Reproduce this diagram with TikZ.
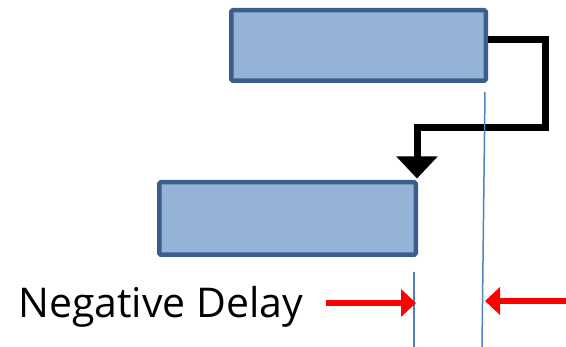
\documentclass[tikz,border=0pt]{standalone}
\usepackage{fontspec}
\setmainfont{Open Sans}
\usetikzlibrary{arrows.meta}
\definecolor{boxfill}{HTML}{95B3D7}
\definecolor{boxline}{HTML}{3B5E8E}
\definecolor{guide}{HTML}{4F81BD}
\begin{document}
\begin{tikzpicture}[x=1pt,y=-1pt,
  bar/.style={draw=boxline,fill=boxfill,line width=4.5pt,rounded corners=1.5pt,inner sep=0pt},
  conn/.style={line width=7pt,line join=miter,-{Triangle[width=40pt,length=22pt]}},
  guideline/.style={draw=guide,line width=1.5pt},
  redarrow/.style={draw=red,line width=6pt,-{Triangle[width=27pt,length=15pt]}},
  lbl/.style={inner sep=0pt,font=\fontsize{41}{48}\selectfont}]
\useasboundingbox (0,0) rectangle (566,347);
\node[bar,minimum width=254.5pt,minimum height=70.5pt] (top) at (358.5,45.5) {};
\node[bar,minimum width=256.5pt,minimum height=72.5pt] (bot) at (287.5,218.5) {};
\draw[conn] ([yshift=5.5pt]top.east) -| (545,128) -| ([xshift=-1pt,yshift=1.5pt]bot.north east);
\coordinate (g1a) at (485,92);
\coordinate (g1b) at (482,347);
\coordinate (g2a) at (414,272);
\coordinate (g2b) at (414,347);
\draw[guideline] (g1a) -- (g1b);
\draw[guideline] (g2a) -- (g2b);
\coordinate (la) at (326,303);
\coordinate (lt) at (416,303);
\coordinate (ra) at (566,301);
\coordinate (rt) at (485,301);
\draw[redarrow] (la) -- (lt);
\draw[redarrow] (ra) -- (rt);
\node[lbl,anchor=base west] (neg) at (18,318) {Negative Delay};
\end{tikzpicture}
\end{document}
